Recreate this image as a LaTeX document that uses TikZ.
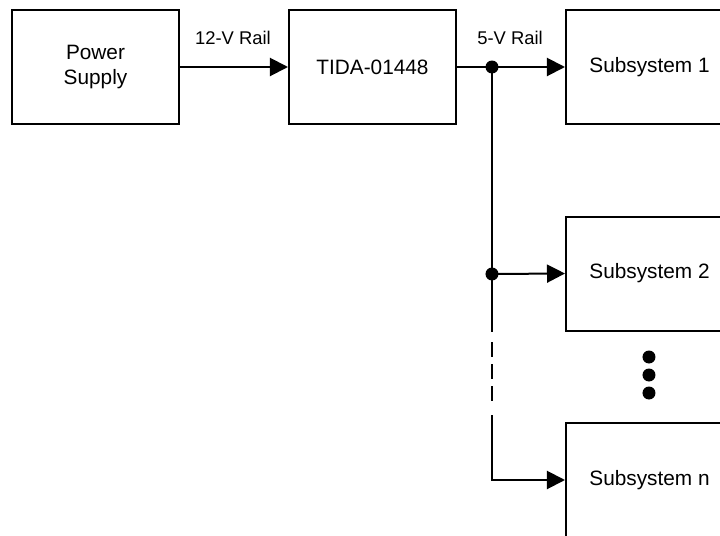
\documentclass[tikz,border=0pt]{standalone}
\usepackage{fontspec}
\setmainfont{Liberation Sans}
\usetikzlibrary{arrows.meta}
\tikzset{
  block/.style={draw, line width=1pt, minimum width=83.5pt, minimum height=57pt,
    align=center, font=\fontsize{10.4}{12.6}\selectfont},
  rail/.style={line width=1pt, -{Triangle[length=9pt,width=9pt]}},
  railtext/.style={font=\fontsize{9.2}{11}\selectfont}
}

\begin{document}
\begin{tikzpicture}[x=0.5pt, y=-0.5pt]
  \useasboundingbox (0,0) rectangle (720,536);

  \node [block] (supply) at (95.5,67) {Power\\Supply};
  \node [block] (tida) at (372.5,67) {TIDA-01448};
  \node [block] (sub1) at (649.5,67) {Subsystem 1};
  \node [block] (sub2) at (649.5,273.5) {Subsystem 2};
  \node [block] (subn) at (649.5,480) {Subsystem n};

  \node [railtext] (rail12) at (233,38) {12-V Rail};
  \node [railtext] (rail5) at (510,38) {5-V Rail};

  \coordinate (j1) at (492,67);
  \coordinate (j2) at (492,274);
  \coordinate (d1) at (492,332);
  \coordinate (d2) at (492,342);
  \coordinate (d3) at (492,403);
  \coordinate (d4) at (492,415);

  \draw [rail] (supply.east) -- (tida.west);
  \draw [rail] (tida.east) -- (sub1.west);
  \draw [line width=1pt] (j1) -- (d1);
  \draw [line width=1pt, dash pattern=on 7.5pt off 3.5pt] (d2) -- (d3);
  \draw [rail] (j2) -- (sub2.west);
  \draw [rail] (d4) |- (subn.west);

  \fill (j1) circle (6.5);
  \fill (j2) circle (6.5);
  \foreach \y in {357,375,393}
    \fill (649,\y) circle (6.5);
\end{tikzpicture}
\end{document}
